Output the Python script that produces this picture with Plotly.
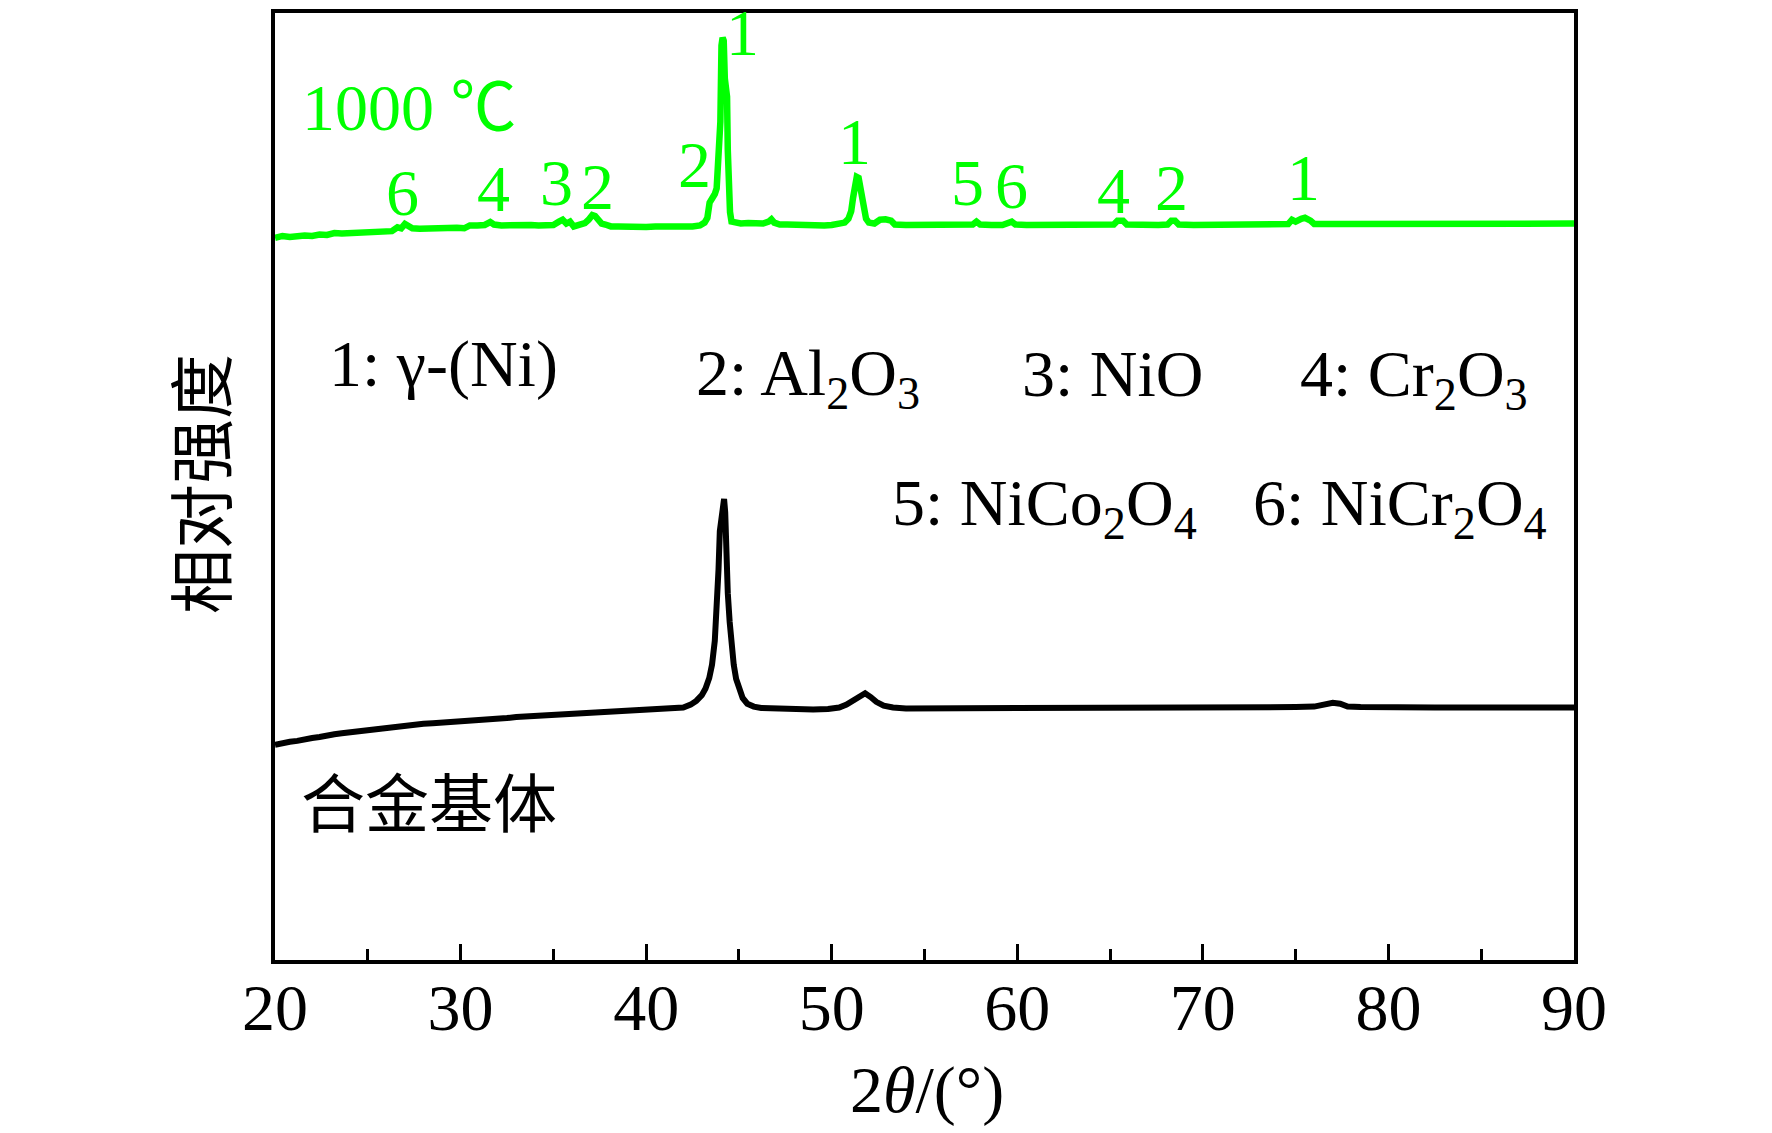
import plotly.graph_objects as go

# XRD patterns (2theta in degrees, intensity in arbitrary units)
green_2theta = [20.0, 20.4, 20.8, 21.2, 21.6, 22.0, 22.4, 22.8, 23.2, 23.6, 24.0, 24.4, 24.8, 25.2, 25.6,
                26.0, 26.3, 26.6, 26.8, 27.0, 27.2, 27.4, 27.8, 28.2, 28.6, 29.0, 29.4, 29.8, 30.2, 30.5,
                30.9, 31.3, 31.6, 31.8, 32.2, 32.6, 33.0, 33.4, 33.8, 34.2, 34.6, 35.0, 35.3, 35.5, 35.7,
                35.9, 36.1, 36.4, 36.7, 36.9, 37.1, 37.25, 37.4, 37.6, 37.8, 38.1, 38.5, 39.0, 39.5, 40.0,
                40.5, 41.0, 41.5, 42.0, 42.5, 42.9, 43.15, 43.3, 43.42, 43.55, 43.7, 43.8, 43.86, 43.94, 44.0,
                44.06, 44.12, 44.18, 44.24, 44.3, 44.36, 44.4, 44.45, 44.52, 44.6, 44.8, 45.1, 45.5, 45.9,
                46.3, 46.6, 46.75, 46.9, 47.2, 47.6, 48.0, 48.4, 48.8, 49.2, 49.6, 50.0, 50.4, 50.7, 50.9,
                51.05, 51.15, 51.25, 51.35, 51.45, 51.55, 51.65, 51.75, 51.85, 52.0, 52.3, 52.6, 52.9, 53.2,
                53.4, 54.0, 54.5, 55.0, 55.5, 56.0, 56.5, 57.0, 57.6, 57.8, 58.0, 58.6, 59.2, 59.7, 59.9,
                60.5, 61.0, 61.5, 62.0, 62.5, 63.0, 63.5, 64.0, 64.5, 65.2, 65.4, 65.7, 65.9, 66.5, 67.0,
                67.6, 68.1, 68.3, 68.5, 68.7, 69.5, 70.0, 71.0, 72.0, 73.0, 74.0, 74.6, 74.8, 75.0, 75.3,
                75.5, 75.8, 76.0, 77.0, 78.0, 79.0, 80.0, 81.0, 82.0, 83.0, 84.0, 85.0, 86.0, 87.0, 88.0,
                89.0, 90.0]
green_int = [75.8, 76.0, 75.9, 76.0, 76.05, 76.0, 76.15, 76.1, 76.3, 76.25, 76.3, 76.35, 76.3, 76.45, 76.4,
             76.6, 76.5, 76.9, 76.8, 77.25, 77.1, 76.8, 76.75, 76.8, 76.75, 76.8, 76.8, 76.85, 76.8, 77.1,
             77.1, 77.15, 77.45, 77.2, 77.1, 77.15, 77.1, 77.15, 77.15, 77.1, 77.15, 77.15, 77.5, 77.7, 77.3,
             77.5, 77.0, 77.2, 77.35, 77.7, 78.2, 78.1, 77.7, 77.3, 77.2, 77.0, 77.0, 76.95, 77.0, 76.95,
             77.0, 76.95, 77.0, 77.0, 77.0, 77.1, 77.4, 77.9, 79.5, 79.9, 80.4, 81.0, 83.8, 84.2, 88.0,
             96.0, 96.8, 96.5, 92.5, 91.0, 90.6, 85.0, 80.8, 78.5, 77.5, 77.4, 77.3, 77.35, 77.25,
             77.3, 77.5, 77.75, 77.4, 77.2, 77.2, 77.15, 77.1, 77.15, 77.1, 77.1, 77.15, 77.2, 77.4, 77.8,
             78.6, 80.0, 81.5, 82.2, 82.1, 80.8, 79.8, 78.6, 77.8, 77.4, 77.3, 77.7, 77.75, 77.6,
             77.2, 77.15, 77.15, 77.15, 77.15, 77.15, 77.15, 77.15, 77.2, 77.5, 77.2, 77.15, 77.15, 77.5, 77.2,
             77.15, 77.15, 77.15, 77.15, 77.15, 77.15, 77.15, 77.15, 77.15, 77.2, 77.6, 77.6, 77.2, 77.15, 77.15,
             77.15, 77.2, 77.6, 77.6, 77.2, 77.15, 77.15, 77.15, 77.2, 77.2, 77.2, 77.25, 77.7, 77.5, 77.8,
             77.9, 77.6, 77.25, 77.25, 77.25, 77.25, 77.3, 77.3, 77.3, 77.3, 77.3, 77.3, 77.3, 77.3, 77.3,
             77.3, 77.3]

black_2theta = [20.0, 20.4, 20.8, 21.2, 21.6, 22.0, 22.4, 22.8, 23.2, 23.6, 24.0, 24.4, 24.8, 25.2, 25.6,
                26.0, 26.5, 27.0, 27.5, 28.0, 28.5, 29.0, 29.5, 30.0, 30.5, 31.0, 31.5, 32.0, 32.5, 33.0,
                33.5, 34.0, 34.5, 35.0, 35.5, 36.0, 36.5, 37.0, 37.5, 38.0, 38.5, 39.0, 39.5, 40.0, 40.5,
                41.0, 41.5, 42.0, 42.4, 42.7, 43.0, 43.2, 43.4, 43.55, 43.7, 43.8, 43.9, 43.97, 44.03, 44.1,
                44.15, 44.2, 44.26, 44.32, 44.4, 44.5, 44.6, 44.72, 44.85, 45.0, 45.2, 45.45, 45.8, 46.2,
                46.8, 47.5, 48.2, 49.0, 49.8, 50.4, 50.8, 51.2, 51.5, 51.8, 52.1, 52.4, 52.8, 53.3, 54.0,
                55.0, 56.0, 57.0, 58.0, 59.0, 60.0, 61.0, 62.0, 63.0, 64.0, 65.0, 66.0, 67.0, 68.0, 69.0,
                70.0, 71.0, 72.0, 73.0, 74.0, 75.0, 76.0, 76.6, 77.0, 77.4, 77.8, 78.5, 79.5, 80.5, 81.5,
                82.5, 83.5, 84.5, 85.5, 86.5, 87.5, 88.5, 89.5, 90.0]
black_int = [22.6, 22.8, 22.9, 23.0, 23.2, 23.3, 23.4, 23.6, 23.7, 23.8, 23.9, 24.0, 24.15, 24.2, 24.3,
             24.4, 24.5, 24.6, 24.7, 24.8, 24.85, 24.9, 25.0, 25.05, 25.1, 25.2, 25.25, 25.35, 25.4, 25.5,
             25.55, 25.6, 25.7, 25.75, 25.8, 25.85, 25.9, 26.0, 26.0, 26.05, 26.1, 26.15, 26.2, 26.2, 26.25,
             26.3, 26.35, 26.5, 26.8, 27.2, 27.8, 28.5, 29.6, 31.0, 33.5, 36.5, 41.0, 45.0, 46.0, 46.5,
             47.5, 48.4, 47.0, 42.0, 38.5, 35.5, 33.0, 31.0, 29.5, 28.4, 27.5, 26.9, 26.6, 26.45,
             26.4, 26.35, 26.3, 26.3, 26.35, 26.5, 26.8, 27.3, 27.7, 28.0, 27.6, 27.1, 26.7, 26.5, 26.4,
             26.4, 26.4, 26.4, 26.4, 26.4, 26.4, 26.45, 26.45, 26.45, 26.45, 26.45, 26.45, 26.45, 26.5, 26.5,
             26.5, 26.5, 26.5, 26.5, 26.5, 26.55, 26.6, 26.8, 27.0, 26.9, 26.6, 26.55, 26.5, 26.5, 26.5,
             26.5, 26.5, 26.5, 26.5, 26.5, 26.5, 26.5, 26.5, 26.5]

# phase labels above the 1000 C pattern
peak_labels = ["6", "4", "3", "2", "2", "1", "1", "5", "6", "4", "2", "1"]
peak_label_x = [26.85, 31.8, 35.15, 37.37, 42.6, 45.2, 51.22, 57.3, 59.68, 65.2, 68.3, 75.4]
peak_label_y = [80.56, 80.98, 81.61, 81.19, 83.49, 97.4, 85.89, 81.61, 81.30, 80.77, 81.09, 82.13]

phase_keys = ["1: γ-(Ni)", "2: Al<sub>2</sub>O<sub>3</sub>", "3: NiO", "4: Cr<sub>2</sub>O<sub>3</sub>",
              "5: NiCo<sub>2</sub>O<sub>4</sub>", "6: NiCr<sub>2</sub>O<sub>4</sub>"]
phase_key_x = [22.86, 42.63, 60.2, 75.18, 53.19, 72.65]
phase_key_y = [66.5, 65.6, 65.5, 65.5, 52.0, 52.0]

x_ticks = [20, 30, 40, 50, 60, 70, 80, 90]

GREEN = "#00FF00"
SERIF = "Liberation Serif, Noto Sans CJK SC"
CJK = "Noto Sans CJK SC"

fig = go.Figure()
fig.add_trace(go.Scatter(x=black_2theta, y=black_int, mode="lines",
                         line=dict(color="black", width=6), showlegend=False))
fig.add_trace(go.Scatter(x=green_2theta, y=green_int, mode="lines",
                         line=dict(color=GREEN, width=6.5), showlegend=False))

annotations = []
for lab, px, py in zip(peak_labels, peak_label_x, peak_label_y):
    annotations.append(dict(x=px, y=py, text=lab, showarrow=False, xanchor="center", yanchor="middle",
                            font=dict(family=SERIF, size=66, color=GREEN)))
for lab, px, py in zip(phase_keys, phase_key_x, phase_key_y):
    annotations.append(dict(x=px, y=py, text=lab, showarrow=False, xanchor="left", yanchor="top",
                            borderpad=0, font=dict(family=SERIF, size=66, color="black")))
annotations.append(dict(x=21.35, y=89.5, text="1000 ℃", showarrow=False, xanchor="left", yanchor="middle",
                        font=dict(family=SERIF, size=66, color=GREEN)))
annotations.append(dict(x=21.3, y=16.9, text="合金基体", showarrow=False, xanchor="left", yanchor="middle",
                        font=dict(family=CJK, size=64, color="black")))
# axis titles (paper coordinates, outside the plot area)
annotations.append(dict(xref="paper", yref="paper", x=0.502, y=-0.1378, text="2<i>θ</i>/(°)",
                        showarrow=False, xanchor="center", yanchor="middle",
                        font=dict(family=SERIF, size=66, color="black")))
annotations.append(dict(xref="paper", yref="paper", x=-0.0593, y=0.5026, text="相对强度",
                        showarrow=False, textangle=-90, xanchor="center", yanchor="middle",
                        font=dict(family=CJK, size=65, color="black")))

fig.update_layout(
    width=1772,
    height=1133,
    margin=dict(l=267, r=206, t=1, b=181),
    plot_bgcolor="white",
    paper_bgcolor="white",
    annotations=annotations,
    xaxis=dict(range=[20, 90], tickvals=x_ticks, ticktext=[str(t) for t in x_ticks],
               ticks="inside", ticklen=16, tickwidth=2.5, tickcolor="black",
               minor=dict(ticks="inside", dtick=5, tick0=20, ticklen=11, tickwidth=2.5, tickcolor="black"),
               showline=True, linewidth=4, linecolor="black", mirror=True,
               showgrid=False, zeroline=False, ticklabelstandoff=-13,
               tickfont=dict(family=SERIF, size=66, color="black")),
    yaxis=dict(range=[0, 99.4], showticklabels=False, ticks="",
               showline=True, linewidth=4, linecolor="black", mirror=True,
               showgrid=False, zeroline=False),
)

fig.write_html("out.html")
